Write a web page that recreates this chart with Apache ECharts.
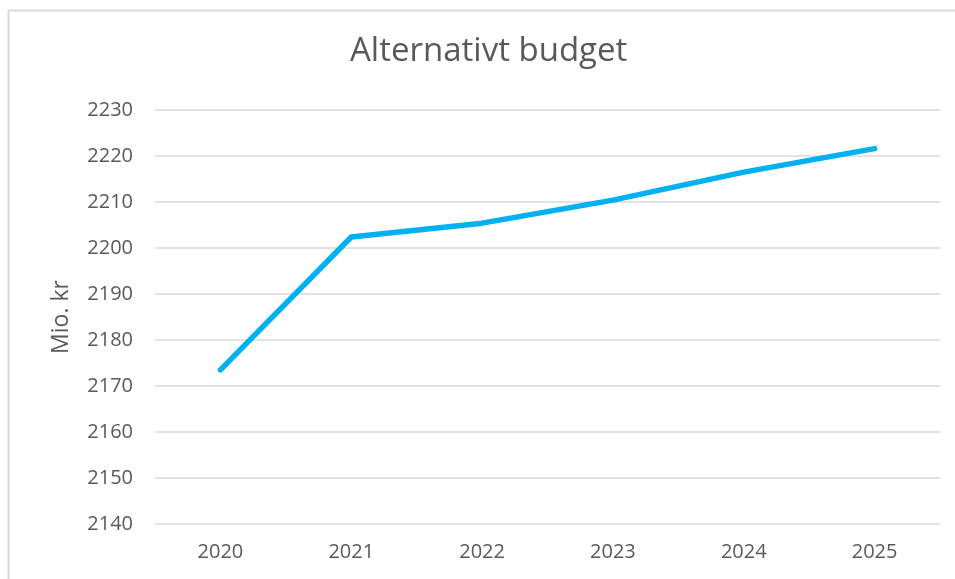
<!DOCTYPE html>
<html>
<head>
<meta charset="utf-8">
<script src="https://cdn.jsdelivr.net/npm/echarts@6/dist/echarts.min.js"></script>
<style>
html,body{margin:0;padding:0;background:#fff;}
#chart{width:955px;height:579px;}
</style>
</head>
<body>
<div id="chart"></div>
<script>
var categories = ['2020', '2021', '2022', '2023', '2024', '2025'];
var values = [2173.5, 2202.4, 2205.4, 2210.4, 2216.5, 2221.6];
var yMin = 2140, yMax = 2230, yStep = 10;

var chart = echarts.init(document.getElementById('chart'));
var FONT = '"Open Sans", sans-serif';
chart.setOption({
  animation: false,
  backgroundColor: '#ffffff',
  title: {
    text: 'Alternativt budget',
    left: 350,
    top: 35,
    padding: 0,
    textStyle: { fontFamily: FONT, fontSize: 33, fontWeight: 'normal', color: '#595959' }
  },
  graphic: [{
    type: 'rect',
    shape: { x: 8.5, y: 10.5, width: 1000, height: 1000 },
    style: { fill: 'none', stroke: '#d9d9d9', lineWidth: 2 },
    silent: true
  }],
  grid: { left: 155, right: 15, top: 110, bottom: 55, containLabel: false },
  xAxis: {
    type: 'category',
    data: categories,
    boundaryGap: true,
    axisLine: { show: false },
    axisTick: { show: false },
    axisLabel: { fontFamily: FONT, fontSize: 20, color: '#595959', margin: 18 }
  },
  yAxis: {
    type: 'value',
    min: yMin, max: yMax, interval: yStep,
    name: 'Mio. kr',
    nameLocation: 'middle',
    nameGap: 82,
    nameRotate: 90,
    nameTextStyle: { fontFamily: FONT, fontSize: 23, color: '#595959' },
    axisLine: { show: false },
    axisTick: { show: false },
    splitLine: { lineStyle: { color: '#d9d9d9', width: 1.5 } },
    axisLabel: { fontFamily: FONT, fontSize: 20, color: '#595959', margin: 22,
      formatter: function (v) { return String(v); } }
  },
  series: [{
    type: 'line',
    data: values,
    symbol: 'none',
    lineStyle: { color: '#00b0f0', width: 5.5, cap: 'round', join: 'round' },
    itemStyle: { color: '#00b0f0' }
  }]
});
</script>
</body>
</html>
